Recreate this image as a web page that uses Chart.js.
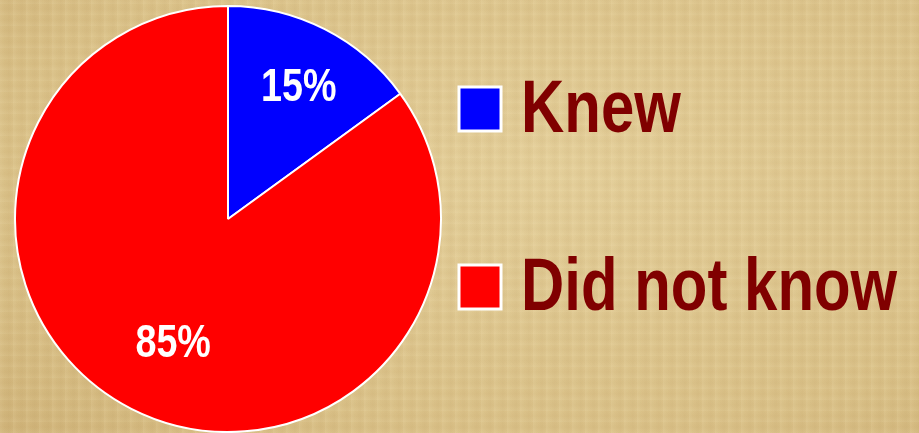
<!DOCTYPE html>
<html>
<head>
<meta charset="utf-8">
<script src="https://cdn.jsdelivr.net/npm/chart.js@4"></script>
<style>
  html, body { margin: 0; padding: 0; }
  body {
    width: 919px; height: 433px; overflow: hidden;
    background-color: #dcc48e;
    background-image:
      repeating-linear-gradient(90deg, rgba(255,240,200,0.10) 0px, rgba(255,240,200,0) 4px, rgba(150,110,50,0.05) 9px, rgba(255,240,200,0) 13px),
      repeating-linear-gradient(0deg, rgba(255,245,210,0.07) 0px, rgba(160,120,60,0.04) 6px, rgba(255,245,210,0) 11px),
      radial-gradient(ellipse at 60% 40%, #e4cf9a 0%, #dac188 70%, #d0b47a 100%);
  }
  #wrap { position: relative; width: 919px; height: 433px; }
</style>
</head>
<body>
<div id="wrap"><canvas id="myChart" width="919" height="433"></canvas></div>
<script>
// chart values
const categories = ['Knew', 'Did not know'];
const values = [15, 85];
const sliceColors = ['#0000ff', '#ff0000'];

const narrowFont = '"Liberation Sans", Arial, sans-serif';

// narrow text: Arial Narrow is not installed, so squeeze Liberation Sans
function narrowText(ctx, text, x, y, squeeze) {
  ctx.save();
  ctx.translate(x, y);
  ctx.scale(squeeze, 1);
  ctx.fillText(text, 0, 0);
  ctx.restore();
}

// draws the percent labels inside the slices
const sliceLabels = {
  id: 'sliceLabels',
  afterDatasetsDraw: function (chart) {
    const ctx = chart.ctx;
    const meta = chart.getDatasetMeta(0);
    const total = values.reduce(function (a, b) { return a + b; }, 0);
    const fractions = [0.7, 0.65];
    const nudgeX = [3, 8];
    ctx.save();
    ctx.fillStyle = '#ffffff';
    ctx.font = 'bold 46px ' + narrowFont;
    ctx.textAlign = 'center';
    ctx.textBaseline = 'middle';
    meta.data.forEach(function (arc, i) {
      const mid = (arc.startAngle + arc.endAngle) / 2;
      const r = arc.outerRadius * fractions[i];
      const x = arc.x + Math.cos(mid) * r + nudgeX[i];
      const y = arc.y + Math.sin(mid) * r;
      narrowText(ctx, Math.round(values[i] / total * 100) + '%', x, y + 2, 0.82);
    });
    ctx.restore();
  }
};

// legend on the right, big boxes and dark red text
const bigLegend = {
  id: 'bigLegend',
  afterDraw: function (chart) {
    const ctx = chart.ctx;
    const baselines = [132, 310];
    ctx.save();
    categories.forEach(function (label, i) {
      const mid = baselines[i] - 23;
      ctx.fillStyle = sliceColors[i];
      ctx.fillRect(459, mid - 22, 42, 44);
      ctx.strokeStyle = '#ffffff';
      ctx.lineWidth = 3;
      ctx.strokeRect(459, mid - 22, 42, 44);
      ctx.fillStyle = '#800000';
      ctx.font = 'bold 74px ' + narrowFont;
      ctx.textAlign = 'left';
      ctx.textBaseline = 'alphabetic';
      narrowText(ctx, label, 521, baselines[i], 0.81);
    });
    ctx.restore();
  }
};

const ctx = document.getElementById('myChart').getContext('2d');
const myChart = new Chart(ctx, {
  type: 'pie',
  data: {
    labels: categories,
    datasets: [{
      data: values,
      backgroundColor: sliceColors,
      borderColor: '#ffffff',
      borderWidth: 2
    }]
  },
  options: {
    responsive: false,
    animation: false,
    layout: { padding: { left: 14, right: 477, top: 5, bottom: 0 } },
    plugins: {
      legend: { display: false },
      tooltip: { enabled: false }
    }
  },
  plugins: [sliceLabels, bigLegend]
});
</script>
</body>
</html>
